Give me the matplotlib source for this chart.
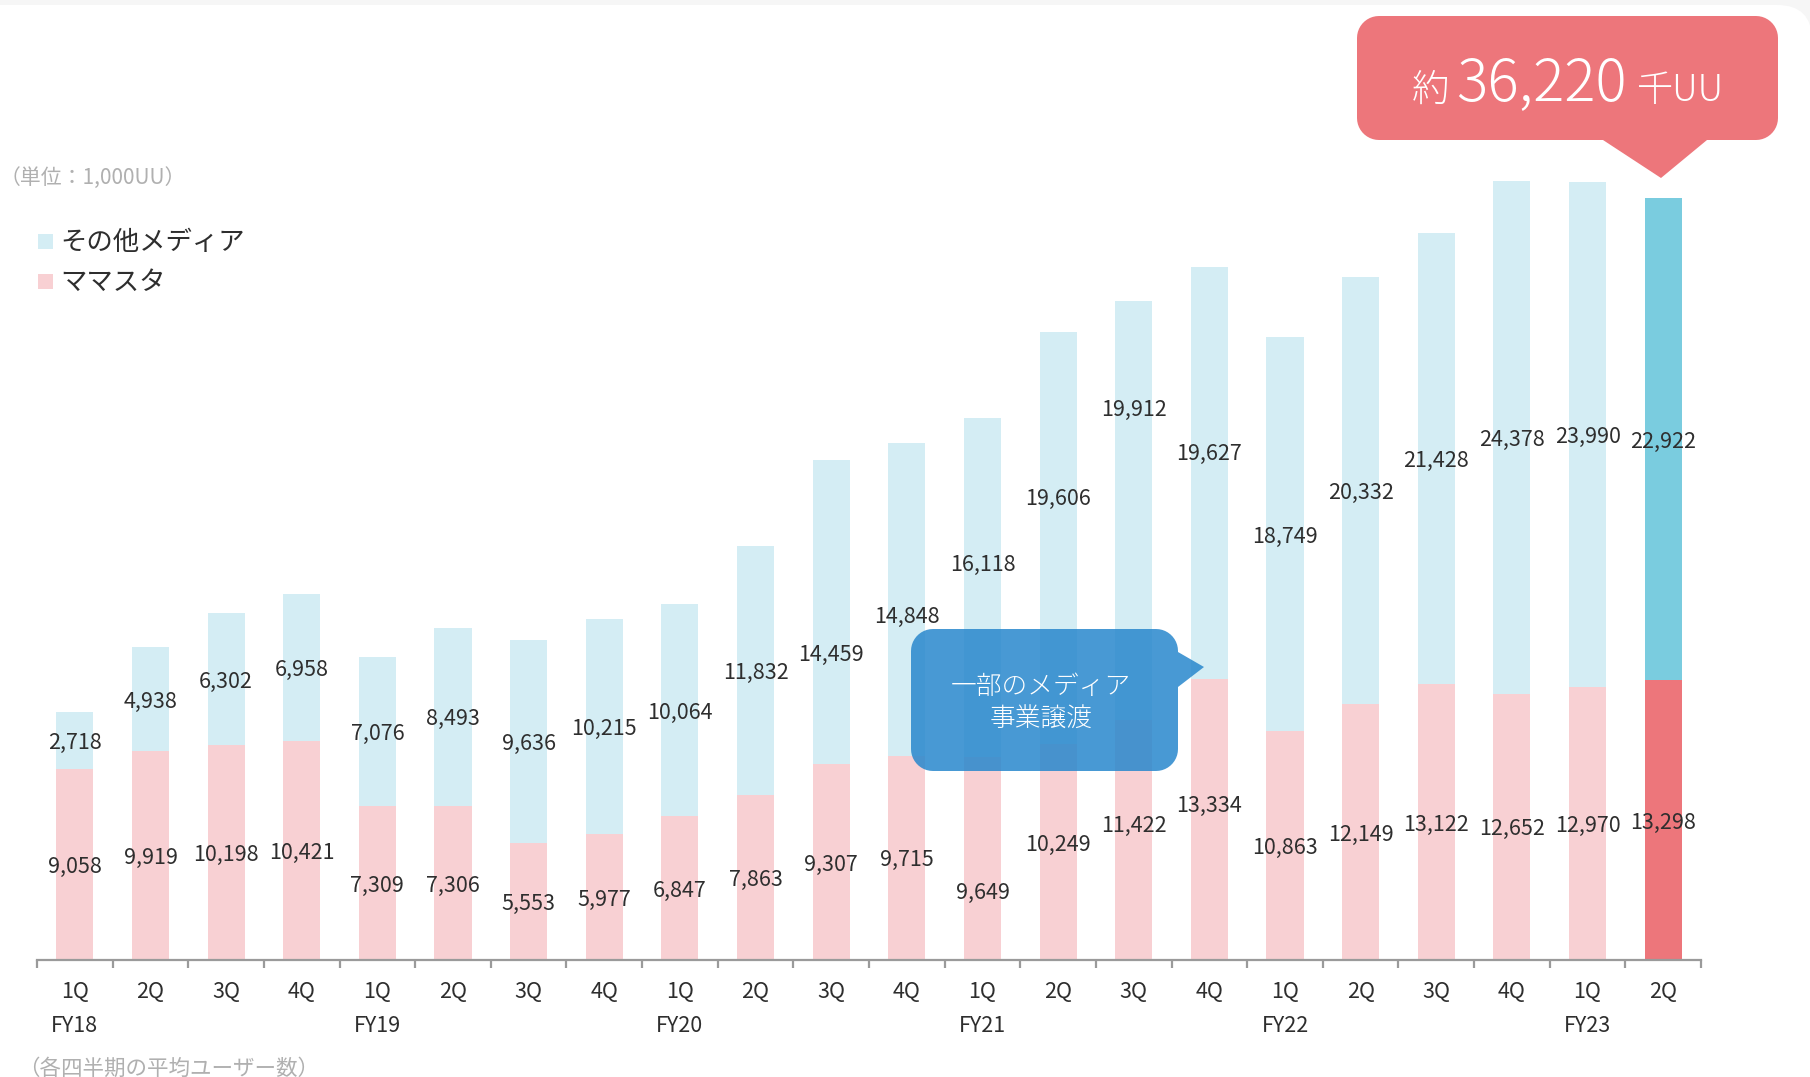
import numpy as np
import matplotlib
matplotlib.use('Agg')
import matplotlib.pyplot as plt
from matplotlib.patches import Polygon, Rectangle, FancyBboxPatch
from matplotlib.transforms import Affine2D, blended_transform_factory

plt.rcParams['font.family'] = ['Noto Sans CJK JP', 'DejaVu Sans']

# data (unit: 1,000 UU, quarterly average users)
quarters = ['1Q', '2Q', '3Q', '4Q'] * 5 + ['1Q', '2Q']
years = ['FY18', 'FY19', 'FY20', 'FY21', 'FY22', 'FY23']
mamasta = [9058, 9919, 10198, 10421, 7309, 7306, 5553, 5977, 6847, 7863, 9307,
           9715, 9649, 10249, 11422, 13334, 10863, 12149, 13122, 12652, 12970, 13298]
others = [2718, 4938, 6302, 6958, 7076, 8493, 9636, 10215, 10064, 11832, 14459,
          14848, 16118, 19606, 19912, 19627, 18749, 20332, 21428, 24378, 23990, 22922]
legend_labels = ['その他メディア', 'ママスタ']
total_text = '36,220'

# manual label nudges (data units) where the original moved labels around the callout
pink_nudge = {12: -1540, 13: 440, 14: 770, 15: 770}
blue_nudge = {10: -1920, 11: -710, 12: 1200, 13: 1970, 14: 4900, 15: 1010}

W, H = 1810, 1077
SCALE = 0.02104  # pixels per 1,000UU
BASE_Y = 960
TXT_DY = 2.5  # text sits a little lower than matplotlib's centre
TXT_COLOR = '#2e2e2e'

fig = plt.figure(figsize=(W / 100, H / 100), dpi=100)
fig.patch.set_facecolor('#f6f6f6')
px = Affine2D().scale(1 / W, -1 / H).translate(0, 1) + fig.transFigure

card = FancyBboxPatch((-60, 5), 1872, 1200, boxstyle='round,pad=0,rounding_size=35',
                      transform=px, facecolor='white', edgecolor='none', zorder=-10)
fig.add_artist(card)

ax = fig.add_axes([37 / W, (H - BASE_Y) / H, (1701 - 37) / W, 45000 * SCALE / H])
ax.set_facecolor('none')
ax.set_xlim(0, 22)
ax.set_ylim(0, 45000)

n = len(mamasta)
x = np.arange(n) + 0.5
pink = ['#f8d0d3'] * (n - 1) + ['#ed767b']
blue = ['#d4edf4'] * (n - 1) + ['#7accdf']
ax.bar(x, mamasta, width=0.49, color=pink, linewidth=0)
ax.bar(x, others, width=0.49, bottom=mamasta, color=blue, linewidth=0)

dy = TXT_DY / SCALE
for i in range(n):
    m, o = mamasta[i], others[i]
    ax.text(x[i], m / 2 + pink_nudge.get(i, 0) - dy, f'{m:,}', ha='center', va='center',
            fontsize=15.5, color=TXT_COLOR, zorder=5)
    ax.text(x[i], m + o / 2 + blue_nudge.get(i, 0) - dy, f'{o:,}', ha='center', va='center',
            fontsize=15.5, color=TXT_COLOR, zorder=5)

for s in ['top', 'right', 'left']:
    ax.spines[s].set_visible(False)
ax.spines['bottom'].set_color('#9a9a9a')
ax.spines['bottom'].set_linewidth(1.6)
ax.set_yticks([])
ax.set_xticks([])
ax.set_xticks(range(n + 1), minor=True)
ax.tick_params(axis='x', which='minor', length=5.5, width=1.6, color='#9a9a9a')

blend = blended_transform_factory(ax.transData, px)
for i in range(n):
    ax.text(x[i], 989 + TXT_DY, quarters[i], transform=blend, ha='center', va='center',
            fontsize=15.5, color=TXT_COLOR)
for k, yr in enumerate(years):
    ax.text(x[k * 4], 1024 + TXT_DY, yr, transform=blend, ha='center', va='center',
            fontsize=15.5, color=TXT_COLOR)


def bubble(x0, y0, x1, y1, r, tail_side, tail):
    pts = []
    def arc(cx, cy, a0, a1):
        t = np.radians(np.linspace(a0, a1, 12))
        return list(zip(cx + r * np.cos(t), cy + r * np.sin(t)))
    pts += arc(x1 - r, y0 + r, -90, 0)
    if tail_side == 'right':
        pts += tail
    pts += arc(x1 - r, y1 - r, 0, 90)
    if tail_side == 'bottom':
        pts += tail
    pts += arc(x0 + r, y1 - r, 90, 180)
    pts += arc(x0 + r, y0 + r, 180, 270)
    return pts


red_pts = bubble(1357, 16, 1778, 140, 22, 'bottom', [(1707, 140), (1661, 178), (1603, 140)])
fig.add_artist(Polygon(red_pts, closed=True, transform=px, facecolor='#ed767b',
                       edgecolor='none', zorder=2))
fig.text(1412, 101, '約', transform=px, ha='left', va='baseline', fontsize=27,
         color='white', fontweight='light', zorder=4)
fig.text(1456, 101, total_text, transform=px, ha='left', va='baseline', fontsize=42,
         color='white', fontweight='light', zorder=4)
fig.text(1637, 101, '千UU', transform=px, ha='left', va='baseline', fontsize=26,
         color='white', fontweight='light', zorder=4)

blue_pts = bubble(911, 629, 1178, 771, 22, 'right', [(1178, 652), (1204, 667), (1178, 687)])
fig.add_artist(Polygon(blue_pts, closed=True, transform=px, facecolor='#2a88cd',
                       alpha=0.86, edgecolor='none', zorder=2))
fig.text(1041, 703, '一部のメディア\n事業譲渡', transform=px, ha='center', va='center',
         multialignment='center', linespacing=1.3, fontsize=18.5, color='white',
         fontweight='light', zorder=4)

# legend
fig.add_artist(Rectangle((38, 234), 15, 15, transform=px, facecolor='#d4edf4',
                         edgecolor='none', zorder=2))
fig.add_artist(Rectangle((38, 274), 15, 15, transform=px, facecolor='#f8d0d3',
                         edgecolor='none', zorder=2))
fig.text(60, 240 + TXT_DY, legend_labels[0], transform=px, va='center', fontsize=19,
         color=TXT_COLOR)
fig.text(60, 280 + TXT_DY, legend_labels[1], transform=px, va='center', fontsize=19,
         color=TXT_COLOR)

fig.text(0, 175 + TXT_DY, '（単位：1,000UU）', transform=px, va='center', fontsize=15,
         color='#b0b0b0')
fig.text(18, 1066 + TXT_DY, '（各四半期の平均ユーザー数）', transform=px, va='center',
         fontsize=15.5, color='#b0b0b0')

fig.savefig('out.png', dpi=100, facecolor=fig.get_facecolor())
